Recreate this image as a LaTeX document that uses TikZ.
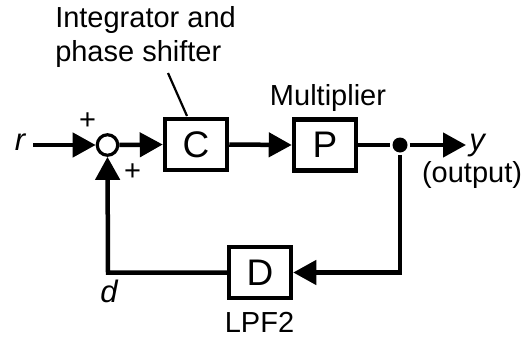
\documentclass[tikz,border=0pt]{standalone}
\usepackage{fontspec}
\setmainfont{Liberation Sans}
\usetikzlibrary{arrows.meta}
\begin{document}
\begin{tikzpicture}[x=1pt,y=-1pt,
  line width=4.5pt,
  blk/.style={draw, rectangle, minimum width=62pt, minimum height=51pt, inner sep=0pt, font=\fontsize{37}{39}\selectfont},
  lbl/.style={font=\fontsize{29}{32}\selectfont, inner sep=0pt},
  pls/.style={font=\fontsize{29}{30}\selectfont, inner sep=0pt},
  ilbl/.style={font=\fontsize{31}{34}\selectfont\itshape, inner sep=0pt},
  arr/.style={-{Triangle[length=23pt,width=24pt]}}]
\useasboundingbox (0,0) rectangle (527,337);
\node[draw, circle, minimum size=20.5pt, inner sep=0pt, line width=3.2pt] (sum) at (107.5,145) {};
\node[blk] (C) at (196,144.5) {C};
\node[blk] (P) at (325,145) {P};
\node[blk] (D) at (260,272.5) {D};
\node[circle, fill, minimum size=15pt, inner sep=0pt] (dot) at (400,145) {};
\node[ilbl, anchor=base] (r) at (20,150) {r};
\node[ilbl, anchor=base] (y) at (477,150) {y};
\node[lbl, anchor=base] (out) at (472,182) {(output)};
\node[ilbl, anchor=base] (d) at (109,302) {d};
\node[lbl, anchor=base] (lpf) at (259.5,332) {LPF2};
\node[lbl, anchor=base] (mul) at (328,105) {Multiplier};
\node[lbl, anchor=base west] (integ1) at (53,28) {Integrator and};
\node[lbl, anchor=base west] (integ2) at (53,62) {phase shifter};
\node[pls] (p1) at (87.5,121.5) {+};
\node[pls] (p2) at (132.5,172.5) {+};
\coordinate (ystart) at (33,145);
\coordinate (yend) at (466,145);
\coordinate (annA) at (168,73);
\coordinate (annB) at (187,116);
\coordinate (fr) at (400,272.5);
\coordinate (fl) at (108,272.5);
\draw[arr] (ystart) -- (sum.west);
\draw[arr] (sum.east) -- (C.west);
\draw[arr] (C.east) -- (P.west);
\draw (P.east) -- (dot);
\draw[arr] (dot) -- (yend);
\draw[line width=2.2pt] (annA) -- (annB);
\draw[arr] (dot) -- (fr) -- (D.east);
\draw[arr] (D.west) -- (fl) -- (sum.south);
\end{tikzpicture}
\end{document}
